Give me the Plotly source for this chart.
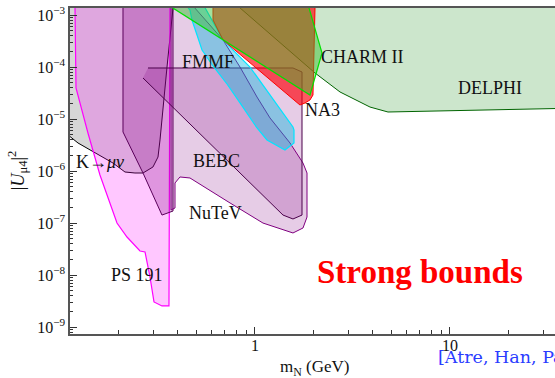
import math
import plotly.graph_objects as go

TOP = 1.4e-3

# K -> mu nu (gray)
k_m = [0.11, 0.11, 0.1237, 0.187, 0.2154, 0.2424, 0.2665, 0.2998, 0.3181, 0.3257, 0.3538, 0.38]
k_u = [TOP, 4.99e-6, 3.50e-6, 1.44e-6, 9.69e-7, 9.27e-7, 9.27e-7, 1.21e-6, 1.88e-6, 4.00e-6, 1.01e-4, TOP]

# PS 191 (magenta)
ps_m = [0.1194, 0.1208, 0.1391, 0.1603, 0.196, 0.2206, 0.2572, 0.2729, 0.2894, 0.3034, 0.3334, 0.3622, 0.3665]
ps_u = [TOP, 4.00e-5, 5.45e-6, 8.49e-7, 1.01e-7, 5.45e-8, 2.93e-8, 2.81e-8, 9.27e-9, 3.07e-9, 2.57e-9, 2.57e-9, TOP]

# dark purple band
pb_m = [0.2104, 0.2104, 0.2665, 0.3334, 0.3798, 0.3798]
pb_u = [TOP, 5.70e-6, 9.27e-7, 1.44e-7, 1.72e-7, TOP]

# NuTeV (lavender)
nt_m = [0.3709, 0.3709, 0.3889, 0.3889, 0.4124, 0.4641, 0.7446, 1.099, 1.566, 1.763, 1.848,
        1.848, 1.763, 1.512, 1.194, 1.024, 0.8378, 0.6853, 0.49]
nt_u = [TOP, 1.80e-7, 1.97e-7, 5.96e-7, 7.77e-7, 7.43e-7, 2.46e-7, 1.01e-7, 6.51e-8, 8.12e-8, 1.32e-7,
        9.27e-7, 1.44e-6, 3.50e-6, 1.06e-5, 2.68e-5, 1.01e-4, 3.35e-4, TOP]

# BEBC
bb_m = [0.2827, 1.566, 1.742, 1.742, 1.566, 1.392, 0.2665]
bb_u = [9.69e-5, 9.69e-5, 8.12e-5, 1.44e-7, 1.21e-7, 1.44e-7, 6.22e-5]

# FMMF (cyan)
fm_m = [0.4532, 0.4641, 0.4752, 0.535, 0.6091, 0.7186, 0.8378, 1.024, 1.152, 1.425, 1.585, 1.585,
        1.566, 1.194, 0.9427, 0.6853, 0.5542]
fm_u = [TOP, 1.26e-3, 8.12e-4, 2.15e-4, 1.06e-4, 4.77e-5, 2.06e-5, 6.80e-6, 4.00e-6, 2.57e-6, 3.50e-6,
        6.22e-6, 7.11e-6, 2.93e-5, 1.01e-4, 3.35e-4, TOP]

# DELPHI (green)
dl_m = [0.835, 2.031, 2.729, 3.888, 4.809, 34.56, 60.0, 60.0]
dl_u = [TOP, 7.77e-5, 3.35e-5, 1.72e-5, 1.38e-5, 1.65e-5, 1.68e-5, TOP]

# NA3 (red)
na_m = [0.6091, 0.6091, 0.6853, 1.512, 1.701, 1.805, 1.914, 1.983, 2.031]
na_u = [TOP, 8.12e-4, 3.35e-4, 2.68e-5, 1.88e-5, 2.06e-5, 2.35e-5, 2.93e-5, TOP]

# CHARM II (bright green)
ch_m = [0.377, 1.914, 2.206, 1.891]
ch_u = [TOP, 2.93e-5, 1.88e-4, TOP]

# region labels: text, mass, |U|^2
lab_text = ["FMMF", "CHARM II", "DELPHI", "NA3", "BEBC", "K→<i>μν</i>", "NuTeV", "PS 191"]
lab_m = [0.574, 3.54, 16.0, 2.23, 0.638, 0.160, 0.624, 0.248]
lab_u = [1.26e-4, 1.58e-4, 4.0e-5, 1.51e-5, 1.58e-6, 1.51e-6, 1.58e-7, 1.01e-8]

x_ticks = [1, 10]
x_ticktext = ["1", "10"]
y_ticks = [1e-9, 1e-8, 1e-7, 1e-6, 1e-5, 1e-4, 1e-3]
y_ticktext = ["10<sup>−9</sup>", "10<sup>−8</sup>", "10<sup>−7</sup>", "10<sup>−6</sup>",
              "10<sup>−5</sup>", "10<sup>−4</sup>", "10<sup>−3</sup>"]

regions = [
    (k_m, k_u, "rgba(128,128,128,0.32)", "#000000", 1.0),
    (ps_m, ps_u, "rgba(255,0,255,0.22)", "#ff00ff", 1.2),
    (pb_m, pb_u, "rgba(128,0,128,0.25)", "#5a005a", 1.0),
    (nt_m, nt_u, "rgba(128,0,128,0.20)", "#800080", 1.0),
    (bb_m, bb_u, "rgba(128,0,128,0.20)", "#4a004a", 1.0),
    (fm_m, fm_u, "rgba(0,180,220,0.40)", "#00e5ff", 1.2),
    (dl_m, dl_u, "rgba(0,128,0,0.20)", "#006400", 1.0),
    (na_m, na_u, "rgba(255,0,10,0.65)", "#ff0000", 1.0),
    (ch_m, ch_u, "rgba(50,190,40,0.45)", "#00e000", 1.2),
]

fig = go.Figure()
for xm, yu, fc, lc, lw in regions:
    fig.add_trace(go.Scatter(x=xm, y=yu, mode="lines", fill="toself", fillcolor=fc,
                             line=dict(color=lc, width=lw), hoverinfo="skip", showlegend=False))

SERIF = "Liberation Serif"
for t, m, u in zip(lab_text, lab_m, lab_u):
    fig.add_annotation(x=math.log10(m), y=math.log10(u), xref="x", yref="y", text=t,
                       xanchor="center", yanchor="middle",
                       showarrow=False, font=dict(family=SERIF, size=18, color="#111111"))

fig.add_annotation(x=0.7216, y=0.19, xref="paper", yref="paper", text="<b>Strong bounds</b>",
                   xanchor="center", yanchor="middle",
                   showarrow=False, font=dict(family=SERIF, size=33, color="#ff0000"))
fig.add_annotation(x=0.7546, y=-0.0706, xref="paper", yref="paper", xanchor="left", yanchor="middle",
                   text="[Atre, Han, Pascoli, Zhang]", showarrow=False,
                   font=dict(family="DejaVu Serif", size=17.5, color="#2a3cff"))
fig.add_annotation(x=0.505, y=-0.104, xref="paper", yref="paper", xanchor="center", yanchor="middle",
                   text="m<sub>N</sub> (GeV)", showarrow=False,
                   font=dict(family=SERIF, size=17, color="#111111"))
fig.add_annotation(x=-0.109, y=0.503, xref="paper", yref="paper", textangle=-90,
                   xanchor="center", yanchor="middle",
                   text="|<i>U</i><sub>μ4</sub>|<sup>2</sup>", showarrow=False,
                   font=dict(family=SERIF, size=18, color="#111111"))

x_minor = [0.2, 0.3, 0.4, 0.5, 0.6, 0.7, 0.8, 0.9, 2, 3, 4, 5, 6, 7, 8, 9, 20, 30]
y_minor = [k * 10.0 ** e for e in range(-10, -2) for k in range(2, 10)]

fig.update_xaxes(type="log", range=[-0.9487, 1.5385], showgrid=False, zeroline=False,
                 showline=True, linecolor="#555555", linewidth=1.5, mirror=True,
                 ticks="inside", ticklen=7, tickcolor="#333333", tickwidth=1,
                 tickvals=x_ticks, ticktext=x_ticktext, ticklabelstandoff=-4,
                 tickfont=dict(family=SERIF, size=16, color="#111111"),
                 minor=dict(tickvals=x_minor, ticks="inside", ticklen=4, tickcolor="#333333", showgrid=False))
fig.update_yaxes(type="log", range=[-9.129, -2.860], showgrid=False, zeroline=False,
                 showline=True, linecolor="#555555", linewidth=1.5, mirror=False,
                 ticks="inside", ticklen=7, tickcolor="#333333", tickwidth=1,
                 tickvals=y_ticks, ticktext=y_ticktext,
                 tickfont=dict(family=SERIF, size=16, color="#111111"),
                 minor=dict(tickvals=y_minor, ticks="inside", ticklen=3, tickcolor="#333333", showgrid=False))

fig.update_layout(width=555, height=378, margin=dict(l=70, r=0, t=8, b=44, pad=0),
                  paper_bgcolor="white", plot_bgcolor="white", showlegend=False)

fig.write_html("out.html")
